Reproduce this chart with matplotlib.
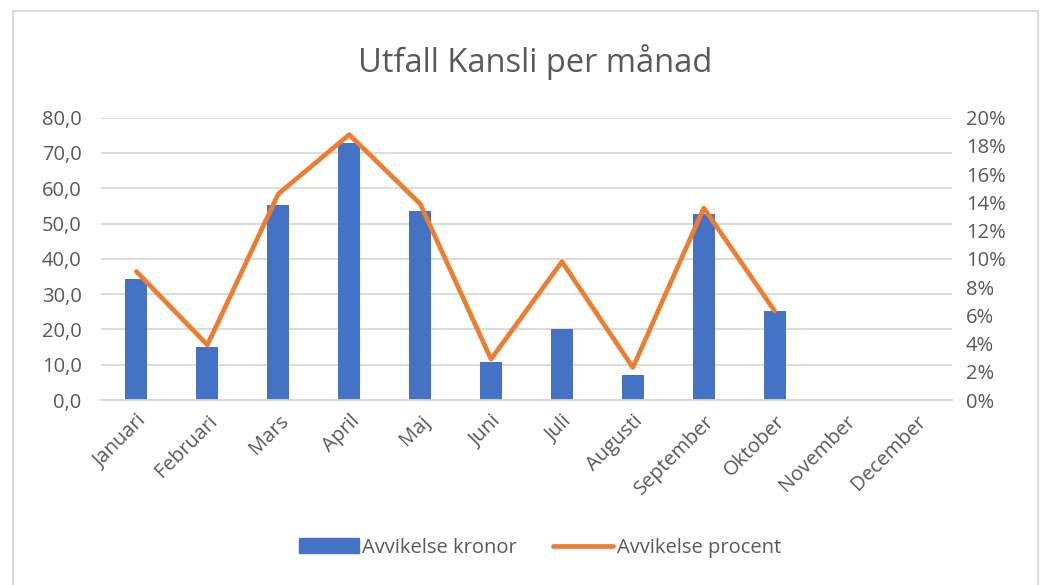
import numpy as np
import matplotlib
matplotlib.use("Agg")
import matplotlib.pyplot as plt
from matplotlib.patches import Rectangle, Patch
from matplotlib.lines import Line2D
from matplotlib.ticker import FuncFormatter, MultipleLocator

# data
months = ["Januari", "Februari", "Mars", "April", "Maj", "Juni", "Juli",
          "Augusti", "September", "Oktober", "November", "December"]
kronor = [34.2, 14.9, 55.3, 72.9, 53.7, 10.7, 20.0, 7.0, 52.8, 25.1, np.nan, np.nan]
procent = [0.091, 0.039, 0.146, 0.188, 0.139, 0.029, 0.098, 0.023, 0.136, 0.063, np.nan, np.nan]

bar_col = "#4472C4"
line_col = "#ED7D31"
txt_col = "#595959"
grid_col = "#D9D9D9"

plt.rcParams["font.family"] = ["Open Sans", "DejaVu Sans"]

fig = plt.figure(figsize=(10.5, 5.85), dpi=100)
ax = fig.add_axes([0.0962, 0.3162, 0.8105, 0.4826])
ax2 = ax.twinx()

x = np.arange(len(months))
ax.bar(x, kronor, width=0.31, color=bar_col, zorder=2)
ax2.plot(x, procent, color=line_col, lw=3.4, solid_joinstyle="round",
         solid_capstyle="round", zorder=3)

ax.set_xlim(-0.5, len(months) - 0.5)
ax.set_ylim(0, 80)
ax2.set_ylim(0, 0.20)
ax.yaxis.set_major_locator(MultipleLocator(10))
ax2.yaxis.set_major_locator(MultipleLocator(0.02))
ax.yaxis.set_major_formatter(FuncFormatter(lambda v, p: f"{v:.1f}".replace(".", ",")))
ax2.yaxis.set_major_formatter(FuncFormatter(lambda v, p: f"{v * 100:.0f}%"))

ax.grid(axis="y", color=grid_col, lw=1.3, zorder=0)
ax.set_axisbelow(True)
for a in (ax, ax2):
    for s in a.spines.values():
        s.set_visible(False)
    a.tick_params(length=0, colors=txt_col, labelsize=14.5)
ax.spines["bottom"].set_visible(True)
ax.spines["bottom"].set_color(grid_col)
ax.spines["bottom"].set_linewidth(1.3)
ax.tick_params(axis="y", pad=14)
ax2.tick_params(axis="y", pad=10)

ax.set_xticks(x)
ax.set_xticklabels(months, rotation=45, ha="right", rotation_mode="anchor")
ax.tick_params(axis="x", pad=8)

fig.text(0.51, 0.894, "Utfall Kansli per månad", ha="center", va="center",
         fontsize=23.5, color=txt_col)

handles = [Patch(color=bar_col), Line2D([0], [0], color=line_col, lw=3.4, solid_capstyle="round")]
fig.legend(handles, ["Avvikelse kronor", "Avvikelse procent"], loc="center",
           bbox_to_anchor=(0.514, 0.064), ncol=2, frameon=False, fontsize=14.5,
           labelcolor=txt_col, handlelength=3.0, handletextpad=0.15, columnspacing=1.8)

fig.patches.append(Rectangle((13 / 1050, -0.05), 1025 / 1050, 1.05 - 11 / 585,
                             transform=fig.transFigure, fill=False,
                             edgecolor=grid_col, lw=1.3))

fig.savefig("out.png", dpi=100, facecolor="white")
